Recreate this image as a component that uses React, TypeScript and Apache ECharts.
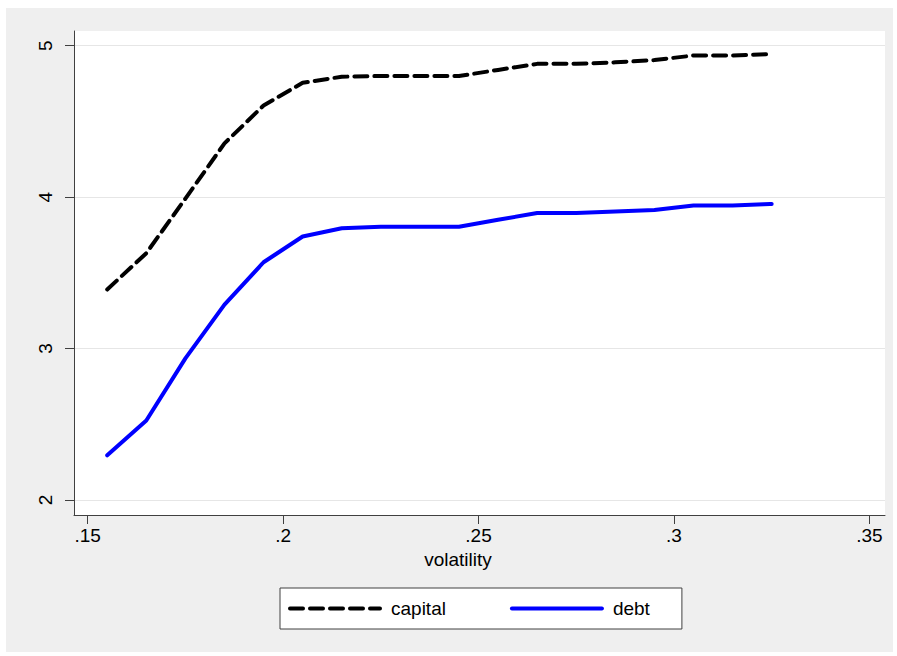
import React, { useEffect, useRef } from "react";
import * as echarts from "echarts";

const volatility = [0.155, 0.165, 0.175, 0.185, 0.195, 0.205, 0.215, 0.225, 0.235, 0.245, 0.255, 0.265, 0.275, 0.285, 0.295, 0.305, 0.315, 0.325];
const capital = [3.39, 3.63, 3.99, 4.355, 4.605, 4.755, 4.795, 4.8, 4.8, 4.8, 4.84, 4.88, 4.88, 4.89, 4.905, 4.935, 4.935, 4.945];
const debt = [2.295, 2.525, 2.935, 3.29, 3.57, 3.74, 3.795, 3.805, 3.805, 3.805, 3.85, 3.895, 3.895, 3.905, 3.915, 3.945, 3.945, 3.955];
const xTicks = [0.15, 0.2, 0.25, 0.3, 0.35];
const yTicks = [2, 3, 4, 5];
const xTitle = "volatility";
const seriesNames = ["capital", "debt"];

const FONT = "'Liberation Sans', Arial, sans-serif";

export default function App() {
  const ref = useRef<HTMLDivElement>(null);
  useEffect(() => {
    if (!ref.current) return;
    const chart = echarts.init(ref.current, null, { renderer: "svg" });
    const fmt = (v: number) => String(v).replace(/^0\./, ".");
    chart.setOption({
      animation: false,
      backgroundColor: "#efefef",
      textStyle: { fontFamily: FONT },
      grid: {
        left: 68,
        top: 23,
        width: 811,
        height: 484,
        show: true,
        backgroundColor: "#ffffff",
        borderWidth: 0,
      },
      xAxis: {
        type: "value",
        min: 0.1465,
        max: 0.354,
        name: xTitle,
        nameLocation: "middle",
        nameGap: 26,
        nameTextStyle: { fontSize: 19, color: "#000", fontFamily: FONT, padding: [0, 43, 0, 0], verticalAlign: "top" },
        axisLine: { show: true, onZero: false, lineStyle: { color: "#404040", width: 1 } },
        axisTick: { show: true, inside: false, length: 9, customValues: xTicks, lineStyle: { color: "#404040" } },
        axisLabel: { show: true, customValues: xTicks, formatter: fmt, fontSize: 19, color: "#000", margin: 11, fontFamily: FONT },
        splitLine: { show: false },
      },
      yAxis: {
        type: "value",
        min: 1.901,
        max: 5.097,
        axisLine: { show: true, onZero: false, lineStyle: { color: "#404040", width: 1 } },
        axisTick: { show: true, inside: false, length: 9, customValues: yTicks, lineStyle: { color: "#404040" } },
        axisLabel: { show: true, customValues: yTicks, rotate: 90, fontSize: 19, color: "#000", margin: 19, fontFamily: FONT },
        splitLine: { show: true, lineStyle: { color: "#e6e6e6", width: 1 } },
      },
      legend: {
        left: 274,
        top: 580,
        orient: "horizontal",
        padding: [11, 32, 11, 8],
        itemGap: 64,
        itemWidth: 90,
        itemHeight: 20,
        backgroundColor: "#ffffff",
        borderColor: "#404040",
        borderWidth: 1,
        borderRadius: 0,
        selectedMode: false,
        itemStyle: { color: "rgba(0,0,0,0)", borderColor: "rgba(0,0,0,0)", borderWidth: 0, opacity: 0 },
        lineStyle: { width: 4 },
        textStyle: { fontSize: 19, color: "#000", fontFamily: FONT, padding: [0, 0, 0, 6] },
        data: seriesNames,
      },
      series: [
        {
          name: seriesNames[0],
          type: "line",
          data: volatility.map((x, i) => [x, capital[i]]),
          symbol: "none",
          showSymbol: false,
          itemStyle: { color: "#000000" },
          lineStyle: { color: "#000000", width: 4, type: [13, 7], cap: "round", join: "round" },
          z: 3,
        },
        {
          name: seriesNames[1],
          type: "line",
          data: volatility.map((x, i) => [x, debt[i]]),
          symbol: "none",
          showSymbol: false,
          itemStyle: { color: "#0000ff" },
          lineStyle: { color: "#0000ff", width: 4, type: "solid", cap: "round", join: "round" },
          z: 3,
        },
      ],
    });
    return () => chart.dispose();
  }, []);
  return (
    <div
      ref={ref}
      style={{ position: "fixed", left: 6, top: 8, width: 887, height: 644 }}
    />
  );
}
